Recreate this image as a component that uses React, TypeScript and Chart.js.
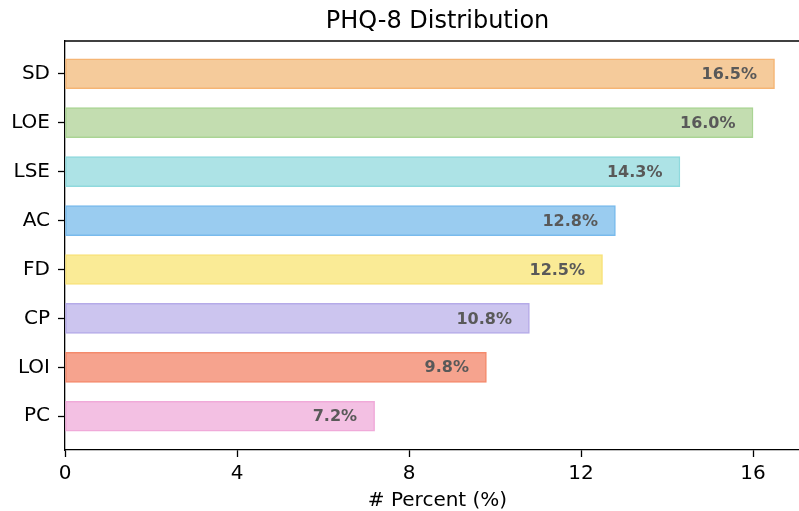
import React, { useEffect, useRef } from "react";
import { Chart, registerables } from "chart.js";

Chart.register(...registerables);

const categories = ["SD", "LOE", "LSE", "AC", "FD", "CP", "LOI", "PC"];
const percents = [16.5, 16.0, 14.3, 12.8, 12.5, 10.8, 9.8, 7.2];
const fillColors = ["#F5CB9B", "#C3DDB0", "#ADE3E6", "#9ACCF0", "#FAEB96", "#CCC5EF", "#F6A38E", "#F3C0E3"];
const edgeColors = ["#F5B574", "#AAD494", "#8FD9DD", "#78BAEC", "#F8E27A", "#B5AAE8", "#F48A6C", "#F0AAD9"];
const xTicks = [0, 4, 8, 12, 16];
const titleText = "PHQ-8 Distribution";
const xTitle = "# Percent (%)";

const FONT = "'DejaVu Sans', sans-serif";
const CW = 810;
const CH = 511;

export default function App() {
  const ref = useRef<HTMLCanvasElement | null>(null);

  useEffect(() => {
    document.body.style.margin = "0";
    const canvas = ref.current!;
    const extras = {
      id: "extras",
      afterDatasetsDraw(chart: any) {
        const ctx = chart.ctx;
        const xs = chart.scales.x;
        const ys = chart.scales.y;
        const area = chart.chartArea;
        ctx.save();
        // top spine
        ctx.strokeStyle = "#000";
        ctx.lineWidth = 1.3;
        ctx.beginPath();
        ctx.moveTo(area.left, area.top);
        ctx.lineTo(area.right, area.top);
        ctx.stroke();
        // value labels
        ctx.font = `bold 16px ${FONT}`;
        ctx.fillStyle = "#595959";
        ctx.textAlign = "right";
        ctx.textBaseline = "middle";
        percents.forEach((v, i) => {
          const x = xs.getPixelForValue(v) - 17.5;
          const y = ys.getPixelForValue(i);
          ctx.fillText(v.toFixed(1) + "%", x, y + 1);
        });
        // title
        ctx.fillStyle = "#000";
        ctx.textAlign = "center";
        ctx.textBaseline = "alphabetic";
        ctx.font = `24px ${FONT}`;
        ctx.fillText(titleText, (area.left + area.right) / 2, 27.5);
        // x title
        ctx.font = `20px ${FONT}`;
        ctx.fillText(xTitle, (area.left + area.right) / 2, 506);
        ctx.restore();
      },
    };

    const chart = new Chart(canvas, {
      type: "bar",
      data: {
        datasets: [
          {
            data: percents.map((v, i) => ({ x: v, y: i })) as any,
            backgroundColor: fillColors,
            borderColor: edgeColors,
            borderWidth: 1.5,
            borderSkipped: false,
            barThickness: 30,
          },
        ],
      },
      options: {
        indexAxis: "y",
        animation: false,
        responsive: false,
        maintainAspectRatio: false,
        layout: { padding: { left: 0, right: 0, top: 41, bottom: 0 } },
        plugins: {
          legend: { display: false },
          tooltip: { enabled: false },
          title: { display: false },
        },
        scales: {
          x: {
            type: "linear",
            min: 0,
            max: 17.325,
            afterFit: (s: any) => {
              s.height = 61;
            },
            afterBuildTicks: (s: any) => {
              s.ticks = xTicks.map((v) => ({ value: v }));
            },
            ticks: {
              font: { family: FONT, size: 20 },
              color: "#000",
              padding: 5,
              maxRotation: 0,
              includeBounds: false,
            },
            grid: {
              display: true,
              drawOnChartArea: false,
              drawTicks: true,
              tickLength: 7,
              tickWidth: 1.3,
              tickColor: "#000",
            },
            border: { display: true, color: "#000", width: 1.3 },
          },
          y: {
            type: "linear",
            reverse: true,
            offset: false,
            min: -0.67,
            max: 7.69,
            afterFit: (s: any) => {
              s.width = 65;
            },
            afterBuildTicks: (s: any) => {
              s.ticks = categories.map((_, i) => ({ value: i }));
            },
            ticks: {
              font: { family: FONT, size: 20 },
              color: "#000",
              padding: 8,
              callback: (v: any) => categories[Math.round(Number(v))] ?? "",
            },
            grid: {
              display: true,
              offset: false,
              drawOnChartArea: false,
              drawTicks: true,
              tickLength: 7,
              tickWidth: 1.3,
              tickColor: "#000",
            },
            border: { display: true, color: "#000", width: 1.3 },
          },
        },
      },
      plugins: [extras],
    } as any);
    return () => chart.destroy();
  }, []);

  return (
    <div style={{ position: "absolute", left: 0, top: 0, width: 799, height: CH, overflow: "hidden" }}>
      <canvas ref={ref} width={CW} height={CH} style={{ width: CW, height: CH, display: "block" }} />
    </div>
  );
}
